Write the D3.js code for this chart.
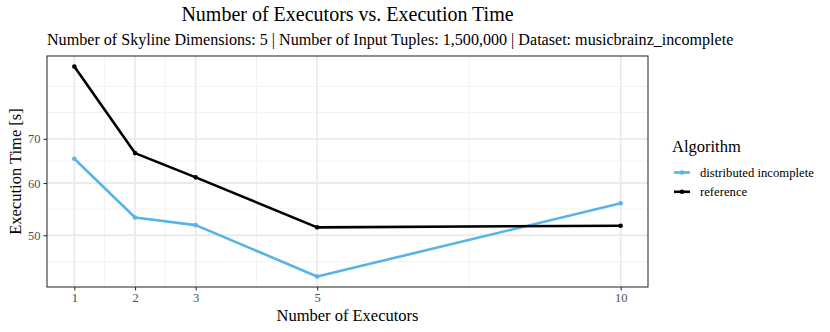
<!DOCTYPE html>
<html>
<head>
  <script src="https://d3js.org/d3.v7.min.js"></script>
  <style>
    body { margin: 0; background: #fff; }
    text { font-family: "Liberation Serif", "DejaVu Serif", serif; }
  </style>
</head>
<body>
  <div id="chart"></div>
  <script>

  var executors = [1, 2, 3, 5, 10];
  var distributedIncomplete = [65.3, 53.2, 51.8, 43.3, 55.9];
  var reference = [90.1, 66.6, 61.2, 51.4, 51.7];
  var seriesNames = ["distributed incomplete", "reference"];
  var seriesColors = ["#56B4E9", "#000000"];
  var yTicks = [50, 60, 70];
  var yMinor = [45.6, 54.8, 64.8, 76.7, 84];
  var xMinor = [1.5, 2.5, 4, 7.5];

  var width = 830,
      height = 332,
      margin = {top: 56, right: 182, bottom: 45, left: 47};

  var svg = d3.select("#chart").append("svg")
    .attr("width", width)
    .attr("height", height)
    .attr("font-family", "'Liberation Serif', serif");

  var pw = width - margin.left - margin.right,
      ph = height - margin.top - margin.bottom;

  var g = svg.append("g")
    .attr("transform", "translate(" + margin.left + "," + margin.top + ")");

  var series = seriesNames.map(function(name, i) {
    var vals = i === 0 ? distributedIncomplete : reference;
    return {name: name, color: seriesColors[i], values: executors.map(function(x, j) {
      return {x: x, y: vals[j]};
    })};
  });

  // x: linear with ggplot-like 5% expansion
  var xr = d3.extent(executors), xe = (xr[1] - xr[0]) * 0.05;
  var x = d3.scaleLinear()
    .domain([xr[0] - xe, xr[1] + xe])
    .range([0, pw]);

  // y: log10 with expansion in log space
  var allY = distributedIncomplete.concat(reference);
  var ly = d3.extent(allY).map(Math.log10), lye = (ly[1] - ly[0]) * 0.05;
  var y = d3.scaleLog()
    .domain([Math.pow(10, ly[0] - lye), Math.pow(10, ly[1] + lye)])
    .range([ph, 0]);

  // grid
  g.selectAll(".ymin").data(yMinor).enter().append("line")
    .attr("x1", 0).attr("x2", pw)
    .attr("y1", function(d) { return y(d); }).attr("y2", function(d) { return y(d); })
    .attr("stroke", "#f2f2f2").attr("stroke-width", 1);
  g.selectAll(".xmin").data(xMinor).enter().append("line")
    .attr("y1", 0).attr("y2", ph)
    .attr("x1", function(d) { return x(d); }).attr("x2", function(d) { return x(d); })
    .attr("stroke", "#f2f2f2").attr("stroke-width", 1);
  g.selectAll(".ymaj").data(yTicks).enter().append("line")
    .attr("x1", 0).attr("x2", pw)
    .attr("y1", function(d) { return y(d); }).attr("y2", function(d) { return y(d); })
    .attr("stroke", "#ebebeb").attr("stroke-width", 1.8);
  g.selectAll(".xmaj").data(executors).enter().append("line")
    .attr("y1", 0).attr("y2", ph)
    .attr("x1", function(d) { return x(d); }).attr("x2", function(d) { return x(d); })
    .attr("stroke", "#ebebeb").attr("stroke-width", 1.8);

  // lines and points
  var line = d3.line()
    .x(function(d) { return x(d.x); })
    .y(function(d) { return y(d.y); });

  series.forEach(function(s) {
    g.append("path")
      .datum(s.values)
      .attr("fill", "none")
      .attr("stroke", s.color)
      .attr("stroke-width", 2.6)
      .attr("stroke-linejoin", "round")
      .attr("d", line);
    g.selectAll(null).data(s.values).enter().append("circle")
      .attr("cx", function(d) { return x(d.x); })
      .attr("cy", function(d) { return y(d.y); })
      .attr("r", 2.3)
      .attr("fill", s.color);
  });

  // panel border
  g.append("rect")
    .attr("width", pw).attr("height", ph)
    .attr("fill", "none").attr("stroke", "#333333").attr("stroke-width", 1.1);

  // axes
  var xAxis = g.append("g")
    .attr("transform", "translate(0," + ph + ")")
    .call(d3.axisBottom(x).tickValues(executors).tickSize(3.5).tickPadding(3).tickFormat(d3.format("d")));
  var yAxis = g.append("g")
    .call(d3.axisLeft(y).tickValues(yTicks).tickSize(3.5).tickPadding(3).tickFormat(d3.format("d")));
  [xAxis, yAxis].forEach(function(a) {
    a.attr("font-family", null);
    a.select(".domain").remove();
    a.selectAll(".tick line").attr("stroke", "#333333").attr("stroke-width", 1.1);
    a.selectAll(".tick text")
      .attr("fill", "#4d4d4d")
      .style("font-family", "'Liberation Serif', serif")
      .style("font-size", "12.5px");
  });

  // titles
  var cx = margin.left + pw / 2;
  svg.append("text")
    .attr("x", cx).attr("y", 21)
    .attr("text-anchor", "middle")
    .style("font-size", "20px")
    .text("Number of Executors vs. Execution Time");
  svg.append("text")
    .attr("x", margin.left).attr("y", 45)
    .attr("text-anchor", "start")
    .style("font-size", "16.1px")
    .text("Number of Skyline Dimensions: 5 | Number of Input Tuples: 1,500,000 | Dataset: musicbrainz_incomplete");
  svg.append("text")
    .attr("x", cx).attr("y", 321)
    .attr("text-anchor", "middle")
    .style("font-size", "16.5px")
    .text("Number of Executors");
  svg.append("text")
    .attr("transform", "translate(21," + (margin.top + ph / 2) + ") rotate(-90)")
    .attr("text-anchor", "middle")
    .style("font-size", "16.5px")
    .text("Execution Time [s]");

  // legend
  var lg = svg.append("g").attr("transform", "translate(672,0)");
  lg.append("text")
    .attr("x", 0).attr("y", 152)
    .style("font-size", "16.5px")
    .text("Algorithm");
  series.forEach(function(s, i) {
    var yy = 172.5 + i * 19.3;
    lg.append("line")
      .attr("x1", 2).attr("x2", 18)
      .attr("y1", yy).attr("y2", yy)
      .attr("stroke", s.color).attr("stroke-width", 2.6);
    lg.append("circle")
      .attr("cx", 10).attr("cy", yy).attr("r", 2.3)
      .attr("fill", s.color);
    lg.append("text")
      .attr("x", 28).attr("y", yy + 4.2)
      .style("font-size", "12.7px")
      .text(s.name);
  });

  </script>
</body>
</html>
